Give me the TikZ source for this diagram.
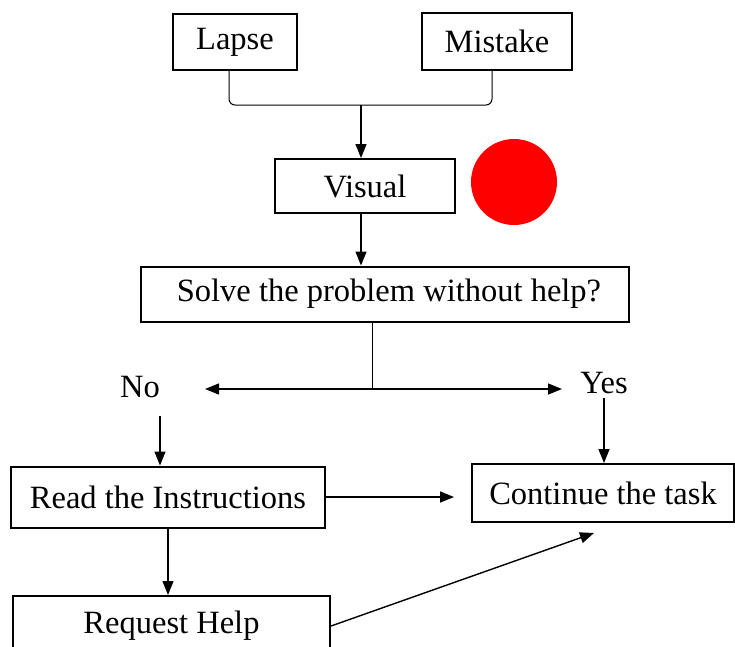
\documentclass[tikz,border=0pt]{standalone}
\usepackage{fontspec}
\setmainfont{Liberation Serif}
\usetikzlibrary{arrows.meta}

\begin{document}
\begin{tikzpicture}[x=1pt,y=-1pt,->,>={Triangle[length=14pt,width=11pt]},line width=1.4pt,
  box/.style={rectangle,draw,line width=2pt,inner sep=0pt},
  every node/.style={font=\fontsize{32.5}{38}\selectfont}]

  \useasboundingbox (0,0) rectangle (735,646);

  \node[box,minimum width=124,minimum height=56] (lapse)   at (235,42)    {Lapse};
  \node[box,minimum width=150,minimum height=57] (mistake) at (497,41)    {Mistake};
  \node[box,minimum width=180,minimum height=54] (visual)  at (365,186)   {Visual};
  \node[circle,fill=red,minimum size=86]         (dot)     at (514,182)   {};
  \node[box,minimum width=488,minimum height=55] (solve)   at (385,294)   {\hspace*{8pt}Solve the problem without help?};
  \node (no)  at (140,387) {No};
  \node (yes) at (604,383) {Yes};
  \node[box,minimum width=314,minimum height=61] (read)    at (168,497)   {Read the Instructions};
  \node[box,minimum width=262,minimum height=58] (cont)    at (603,493)   {Continue the task};
  \node[box,minimum width=317,minimum height=60] (help)    at (171.5,626) {Request Help};

  \coordinate (join)  at (361,105);
  \coordinate (fork)  at (372,389);
  \coordinate (left)  at (205,389);
  \coordinate (right) at (562,389);
  \coordinate (nodown) at (160,416);
  \coordinate (tip)   at (594,533);

  \draw[-,line width=1pt,rounded corners=6] ([xshift=-6]lapse.south) |- (join) -| ([xshift=-5]mistake.south);
  \draw (join) -- (join |- visual.north);
  \draw ([xshift=-4]visual.south) -- ([xshift=-4]visual.south |- solve.north);
  \draw[-,line width=1pt] (solve.south -| fork) -- (fork);
  \draw[<->] (left) -- (right);
  \draw (nodown) -- (nodown |- read.north);
  \draw (yes.south) -- (yes.south |- cont.north);
  \draw (read.east) -- ([xshift=-17]cont.west |- read.east);
  \draw (read.south) -- (read.south |- help.north);
  \draw (help.east) -- (tip);

\end{tikzpicture}
\end{document}
